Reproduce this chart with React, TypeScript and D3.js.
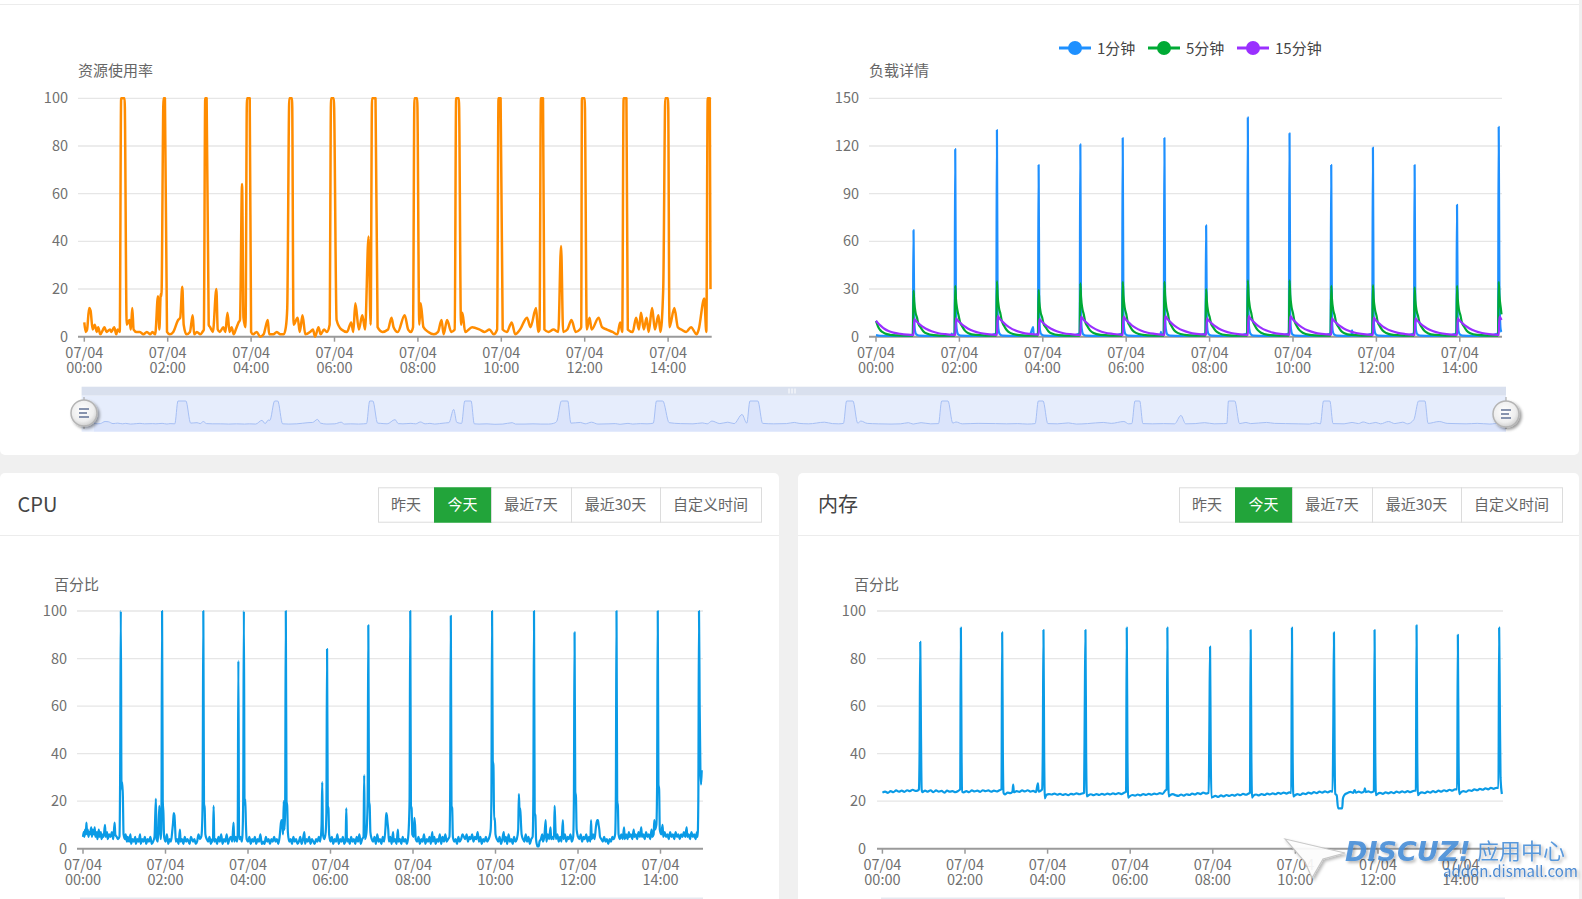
import React from "react";
import * as d3 from "d3";

type Pt = [number, number];

// ---------- labels / ticks ----------
const TICK_MINUTES = [0, 120, 240, 360, 480, 600, 720, 840];
const TICK_DATE = "07/04";
const TICK_CLOCK = ["00:00", "02:00", "04:00", "06:00", "08:00", "10:00", "12:00", "14:00"];
const USAGE_TICKS = [0, 20, 40, 60, 80, 100];
const LOAD_TICKS = [0, 30, 60, 90, 120, 150];
const PERCENT_TICKS = [0, 20, 40, 60, 80, 100];
const LOAD_NAMES = ["1分钟", "5分钟", "15分钟"];
const RANGE_BUTTONS = ["昨天", "今天", "最近7天", "最近30天", "自定义时间"];
const ACTIVE_BUTTON = "今天";

// ---------- data: [minute since 07/04 00:00, value] ----------
const resourceUsage: Pt[] = [
  [0,6],[2,2],[4,3],[7,12],[9,11],[12,3],[15,5],[18,2],[20,4],[23,1],[27,3],[29,4],[32,2],[37,3],[39,2],[43,4],[46,1],[48,3],[51,2],
  [53,100],[58,100],[61,5],[65,7],[67,3],[69,12],[71,3],[75,2],[80,2],[85,1],[90,2],[95,1],[98,2],[102,1],[106,17],[108,3],[110,18],[111,17],
  [114,100],[116,100],[119,2],[123,1],[128,2],[135,7],[138,8],[141,21],[143,5],[147,1],[152,2],[156,9],[158,1],[162,2],[167,1],[170,2],[172,3],
  [174,100],[176,100],[179,5],[181,4],[185,2],[190,20],[192,3],[195,2],[200,4],[203,2],[206,10],[209,2],[212,4],[215,1],[218,3],[222,6],[224,7],[227,64],[229,8],[232,4],
  [234,100],[238,100],[240,2],[243,1],[248,2],[253,0],[258,1],[264,7],[266,1],[272,1],[277,2],[282,1],[287,1],[290,4],[292,12],
  [295,100],[299,100],[301,5],[307,8],[310,2],[314,9],[318,1],[325,2],[329,3],[332,0],[337,4],[340,1],[345,3],[349,2],[353,5],
  [355,100],[359,100],[363,7],[370,3],[378,2],[384,6],[387,2],[390,14],[395,3],[400,9],[404,3],[409,42],[412,5],
  [414,100],[419,100],[422,4],[429,2],[437,3],[442,8],[445,4],[451,2],[461,9],[466,3],[470,2],[473,4],
  [475,100],[479,100],[482,5],[484,14],[488,4],[495,2],[503,1],[509,2],[514,7],[517,1],[522,7],[528,2],[533,3],
  [535,100],[539,100],[542,5],[544,10],[548,2],[558,4],[569,3],[576,2],[583,3],[589,1],[594,3],
  [596,100],[599,100],[602,3],[608,2],[615,6],[620,1],[627,3],[637,8],[642,4],[650,12],[653,2],[655,3],
  [657,100],[660,100],[662,3],[668,2],[675,3],[682,2],[686,38],[689,2],[695,3],[701,7],[707,2],[713,3],[715,4],
  [716,100],[720,100],[723,3],[727,8],[730,3],[740,8],[745,4],[752,3],[760,2],[767,1],[771,6],[774,2],
  [776,100],[780,100],[782,3],[789,2],[794,8],[798,3],[801,10],[805,3],[809,8],[812,2],[817,12],[821,3],[826,9],[829,2],[833,20],
  [836,100],[840,100],[842,4],[849,12],[854,4],[859,3],[866,2],[873,4],[881,1],[884,3],[892,16],[895,2],
  [897,100],[900,100],[901,20],
];

const load1m: Pt[] = [
  [0,1],[6,0.6],[20,0.5],[35,0.6],[50,0.5],[53,1.5],[54,67],[55,14],[56,4],[58,1.5],[62,0.7],[80,0.5],[100,0.6],[108,0.6],[109,2],[110,0.6],
  [113,2],[114,118],[115,16],[116,5],[118,1.6],[122,0.7],[140,0.5],[160,0.6],[173,2],[174,130],[175,17],[176,5],[178,1.7],[182,0.7],[200,0.5],
  [220,0.6],[225,5],[226,6],[227,0.8],[233,2],[234,108],[235,15],[236,4],[238,1.5],[242,0.7],[260,0.5],[280,0.6],[293,2],[294,121],[295,16],
  [296,5],[298,1.6],[302,0.7],[320,0.5],[340,0.6],[354,2],[355,125],[356,16],[357,5],[359,1.6],[363,0.7],[380,0.5],[400,0.6],[409,0.6],[410,3],
  [411,0.7],[414,2],[415,125],[416,16],[417,5],[419,1.6],[423,0.7],[440,0.5],[460,0.6],[474,2],[475,70],[476,12],[477,4],[479,1.4],[483,0.7],
  [500,0.5],[520,0.6],[534,2],[535,138],[536,17],[537,5],[539,1.7],[543,0.7],[560,0.5],[580,0.6],[594,2],[595,128],[596,16],[597,5],[599,1.6],
  [603,0.7],[620,0.5],[640,0.6],[654,2],[655,108],[656,15],[657,4],[659,1.5],[663,0.7],[680,0.5],[684,0.6],[685,4],[686,0.6],[700,0.6],[714,2],
  [715,119],[716,16],[717,5],[719,1.6],[723,0.7],[740,0.5],[760,0.6],[774,2],[775,108],[776,15],[777,4],[779,1.5],[783,0.7],[800,0.5],[820,0.6],
  [835,2],[836,83],[837,13],[838,4],[840,1.5],[844,0.7],[860,0.5],[880,0.6],[895,2],[896,132],[897,30],[898,10],[899,4],[900,3],
];

const load5m: Pt[] = [
  [0,10],[2,7.5],[4,5.5],[6,4.2],[9,3],[13,2],[20,1.2],[30,0.8],[45,0.6],[53,0.6],
  [54,29],[55,22],[57,15],[59,12],[61,8],[64,6],[68,3.5],[73,2],[83,1],[100,0.6],[113,0.6],
  [114,32],[115,24],[117,17],[119,13],[121,9],[124,6.5],[128,3.8],[133,2.2],[143,1.1],[160,0.7],[173,0.6],
  [174,35],[175,26],[177,18],[179,14.5],[181,10],[184,7],[188,4.2],[193,2.4],[203,1.2],[220,0.7],[233,0.6],
  [234,29.5],[235,22],[237,15],[239,12.2],[241,8.2],[244,6],[248,3.5],[253,2],[263,1],[280,0.6],[293,0.6],
  [294,33.5],[295,25],[297,17.5],[299,14],[301,9.4],[304,6.7],[308,4],[313,2.3],[323,1.1],[340,0.7],[354,0.6],
  [355,34.5],[356,26],[358,18],[360,14.4],[362,9.7],[365,6.9],[369,4.1],[374,2.4],[384,1.2],[400,0.7],[414,0.6],
  [415,34.5],[416,26],[418,18],[420,14.4],[422,9.7],[425,6.9],[429,4.1],[434,2.4],[444,1.2],[460,0.7],[474,0.6],
  [475,30],[476,22.5],[478,15.6],[480,12.5],[482,8.4],[485,6],[489,3.6],[494,2.1],[504,1],[520,0.6],[534,0.6],
  [535,35.5],[536,26.5],[538,18.5],[540,14.8],[542,10],[545,7.1],[549,4.3],[554,2.5],[564,1.2],[580,0.7],[594,0.6],
  [595,35.5],[596,26.5],[598,18.5],[600,14.8],[602,10],[605,7.1],[609,4.3],[614,2.5],[624,1.2],[640,0.7],[654,0.6],
  [655,32],[656,24],[658,16.6],[660,13.3],[662,9],[665,6.4],[669,3.8],[674,2.2],[684,1.1],[700,0.7],[714,0.6],
  [715,32.5],[716,24.4],[718,17],[720,13.5],[722,9.1],[725,6.5],[729,3.9],[734,2.3],[744,1.1],[760,0.7],[774,0.6],
  [775,31],[776,23],[778,16],[780,12.9],[782,8.7],[785,6.2],[789,3.7],[794,2.2],[804,1.1],[820,0.7],[835,0.6],
  [836,32],[837,24],[839,16.6],[841,13.3],[843,9],[846,6.4],[850,3.8],[855,2.2],[865,1.1],[880,0.7],[895,0.6],
  [896,34.5],[897,26],[899,18],[900,14],
];

const load15m: Pt[] = [
  [0,10],[3,8.5],[7,6.8],[12,5],[18,3.6],[25,2.6],[35,1.8],[45,1.3],[53,1.1],
  [54,1.2],[55,11.1],[58,9.7],[62,8.1],[67,6.3],[72,5],[80,3.4],[90,2.2],[100,1.6],[113,1.1],
  [114,1.3],[115,11.5],[118,10],[122,8.4],[127,6.6],[132,5.2],[140,3.6],[150,2.3],[160,1.6],[173,1.2],
  [174,1.3],[175,13],[178,11.3],[182,9.5],[187,7.4],[192,5.9],[200,4],[210,2.6],[220,1.8],[233,1.3],
  [234,1.4],[235,11.1],[238,9.7],[242,8.1],[247,6.3],[252,5],[260,3.4],[270,2.2],[280,1.6],[293,1.1],
  [294,1.3],[295,12.6],[298,11],[302,9.2],[307,7.2],[312,5.7],[320,3.9],[330,2.5],[340,1.8],[354,1.2],
  [355,1.3],[356,12.6],[359,11],[363,9.2],[368,7.2],[373,5.7],[381,3.9],[391,2.5],[401,1.8],[414,1.2],
  [415,1.3],[416,13],[419,11.3],[423,9.5],[428,7.4],[433,5.9],[441,4],[451,2.6],[461,1.8],[474,1.3],
  [475,1.4],[476,11.5],[479,10],[483,8.4],[488,6.6],[493,5.2],[501,3.6],[511,2.3],[521,1.6],[534,1.2],
  [535,1.3],[536,13],[539,11.3],[543,9.5],[548,7.4],[553,5.9],[561,4],[571,2.6],[581,1.8],[594,1.3],
  [595,1.4],[596,13],[599,11.3],[603,9.5],[608,7.4],[613,5.9],[621,4],[631,2.6],[641,1.8],[654,1.3],
  [655,1.4],[656,11.5],[659,10],[663,8.4],[668,6.6],[673,5.2],[681,3.6],[691,2.3],[701,1.6],[714,1.2],
  [715,1.3],[716,12],[719,10.4],[723,8.8],[728,6.8],[733,5.4],[741,3.7],[751,2.4],[761,1.7],[774,1.2],
  [775,1.3],[776,11.5],[779,10],[783,8.4],[788,6.6],[793,5.2],[801,3.6],[811,2.3],[821,1.6],[835,1.2],
  [836,1.3],[837,11.5],[840,10],[844,8.4],[849,6.6],[854,5.2],[862,3.6],[872,2.3],[882,1.6],[895,1.2],
  [896,1.3],[897,12.6],[900,10.5],
];

const cpuPercent: Pt[] = [
  [0,5],[1,7],[2,5],[3,8],[4,6],[5,11],[6,6],[7,8],[8,5],[9,7],[10,6],[12,9],[13,5],[14,8],[16,6],[17,9],[18,5],[20,7],[21,4],[23,8],[24,5],
  [26,7],[27,4],[29,6],[30,5],[32,10],[33,5],[35,7],[36,4],[38,6],[40,5],[42,7],[44,4],[46,11],[47,6],[49,5],[51,4],[53,5],[54,30],
  [55,100],[56,25],[57,28],[58,22],[59,6],[61,4],[62,6],[64,3],[65,5],[67,3],[69,6],[70,2],[72,4],[74,3],[76,5],[77,2],[79,4],[81,3],[83,6],
  [84,2],[86,4],[88,3],[90,5],[92,2],[94,4],[96,3],[98,5],[100,2],[102,3],[104,5],[106,21],[107,4],[109,3],[111,18],[112,10],[113,4],[114,8],
  [115,100],[116,20],[117,15],[118,5],[120,3],[122,6],[124,2],[126,4],[128,3],[130,8],[131,11],[132,15],[133,14],[134,9],[135,3],[137,4],
  [139,2],[141,8],[142,3],[144,4],[146,2],[148,5],[150,3],[152,4],[155,2],[157,5],[160,3],[162,4],[164,2],[166,3],[168,6],[170,4],[172,5],
  [173,8],[174,20],[175,100],[176,19],[177,17],[178,6],[180,4],[182,3],[184,5],[186,2],[188,4],[189,3],[190,18],[191,3],[193,4],[195,2],
  [197,5],[199,3],[201,6],[203,2],[205,4],[207,3],[209,6],[211,2],[213,4],[215,5],[217,3],[219,11],[220,3],[222,5],[224,3],[225,6],[226,79],
  [227,4],[229,5],[231,3],[232,6],[233,20],[234,100],[235,18],[236,21],[237,10],[238,4],[240,3],[242,5],[244,2],[246,4],[248,3],[250,5],
  [252,2],[254,4],[256,3],[258,6],[260,2],[262,3],[264,2],[266,5],[268,3],[270,4],[272,2],[274,4],[276,3],[278,5],[280,3],[282,4],[284,2],
  [286,5],[288,11],[289,12],[290,10],[291,6],[292,20],[293,8],[294,15],[295,100],[296,20],[297,18],[298,7],[300,3],[302,4],[304,2],[306,5],
  [308,3],[310,4],[312,2],[314,3],[316,5],[318,2],[320,4],[322,7],[323,2],[325,4],[327,3],[329,5],[331,2],[333,4],[335,3],[337,2],[339,4],
  [341,3],[343,5],[345,3],[347,10],[348,28],[349,6],[351,4],[353,7],[354,15],[355,84],[356,18],[357,17],[358,6],[360,3],[362,5],[364,2],
  [366,4],[368,3],[370,6],[372,2],[374,4],[376,3],[378,5],[380,2],[382,4],[383,17],[384,3],[386,4],[388,2],[390,5],[392,3],[394,4],[396,2],
  [398,5],[400,3],[402,6],[404,2],[406,4],[408,5],[409,31],[410,4],[412,6],[414,20],[415,94],[416,20],[417,18],[418,7],[420,4],[422,3],
  [424,5],[426,2],[428,6],[430,3],[432,4],[434,2],[436,5],[438,3],[440,9],[441,15],[442,14],[443,11],[444,8],[445,3],[447,5],[449,2],[451,7],
  [452,3],[454,4],[456,2],[458,8],[459,3],[461,4],[463,2],[465,5],[467,3],[469,4],[471,2],[473,5],[475,20],[476,100],[477,18],[478,17],
  [479,6],[481,5],[482,13],[483,10],[484,4],[486,3],[488,5],[490,2],[492,4],[494,3],[496,6],[498,2],[500,4],[502,3],[504,5],[506,2],[508,7],
  [509,3],[511,5],[513,2],[515,4],[517,3],[519,6],[521,2],[523,5],[525,3],[527,6],[529,3],[531,4],[533,5],[534,20],[535,98],[536,18],
  [537,17],[538,5],[540,3],[542,4],[544,2],[546,5],[548,3],[550,4],[552,6],[554,5],[556,4],[558,6],[560,3],[562,5],[564,4],[566,6],[568,3],
  [570,5],[572,4],[574,7],[576,3],[578,5],[580,2],[582,4],[584,3],[586,5],[588,3],[590,4],[592,6],[593,8],[594,20],[595,100],[596,37],
  [597,35],[598,12],[599,13],[600,6],[602,4],[604,3],[606,5],[608,2],[610,4],[612,7],[613,3],[615,5],[617,2],[619,6],[621,3],[623,4],
  [625,2],[627,5],[629,3],[631,4],[633,8],[634,23],[635,16],[636,17],[637,11],[638,6],[640,4],[642,3],[644,6],[646,3],[648,5],[650,2],
  [652,4],[654,5],[655,20],[656,100],[657,15],[658,14],[659,4],[660,2],[661,1],[663,1],[664,3],[666,4],[668,6],[669,3],[671,5],[673,12],
  [674,3],[676,6],[678,4],[680,9],[681,4],[683,5],[685,4],[686,18],[687,10],[688,4],[690,6],[692,3],[694,5],[696,3],[698,12],[699,4],
  [701,6],[703,3],[705,5],[707,4],[709,6],[711,3],[713,5],[714,20],[715,91],[716,24],[717,22],[718,8],[720,5],[722,4],[724,6],[726,3],
  [728,5],[730,4],[732,6],[734,3],[736,5],[738,3],[739,12],[740,4],[742,6],[744,4],[746,9],[747,11],[748,12],[749,12],[750,10],[751,8],
  [752,5],[754,4],[756,3],[758,5],[760,3],[762,4],[764,2],[766,4],[768,3],[770,5],[772,4],[774,6],[775,20],[776,100],[777,20],[778,18],
  [779,6],[781,4],[783,6],[785,4],[787,9],[788,4],[790,6],[792,4],[794,7],[795,5],[797,6],[799,4],[801,8],[802,5],[804,6],[806,4],[808,7],
  [810,5],[812,9],[813,5],[815,6],[817,4],[819,7],[821,5],[823,6],[825,4],[827,8],[828,5],[830,6],[831,12],[832,8],[834,10],[835,25],
  [836,100],[837,27],[838,25],[839,8],[841,6],[843,10],[844,5],[846,7],[848,5],[850,6],[852,4],[854,7],[856,5],[858,6],[860,4],[862,7],
  [864,5],[866,6],[868,4],[870,6],[872,5],[874,7],[876,5],[878,9],[879,5],[881,6],[883,4],[885,7],[887,5],[889,6],[891,4],[893,7],[894,5],
  [895,20],[896,100],[897,60],[898,34],[899,27],[900,33],
];

const memPercent: Pt[] = [
  [0,23.6],[4,24],[8,23.5],[12,24.2],[16,23.8],[20,24.5],[24,24],[28,24.4],[32,23.9],[36,24.6],[40,24.2],[44,24.8],[48,24.3],[52,24.6],
  [53,25],[54,40],[55,87],[56,50],[57,25],[58,23.8],[62,24.4],[66,24],[70,24.6],[74,23.8],[78,24.5],[82,24],[86,24.3],[90,23.6],[94,24.4],
  [98,24],[102,24.2],[106,23.8],[110,24.3],[113,25],[114,93],[115,40],[116,24],[118,23.7],[122,24.2],[126,23.8],[130,24.5],[134,24.1],
  [138,24.4],[142,23.9],[146,24.6],[150,24.2],[154,24.5],[158,24],[162,24.4],[166,24.1],[170,24.6],[173,25],[174,91],[175,40],[176,23.5],
  [178,22.8],[182,23.6],[186,23.4],[189,24],[190,27],[191,23.8],[195,24.2],[199,23.9],[203,24.5],[207,24.1],[211,24.6],[215,24],[219,24.3],
  [223,23.8],[226,27.5],[227,24],[230,24.4],[232,25],[233,40],[234,92],[235,40],[236,21.2],[238,22.6],[242,23],[246,22.8],[250,23.2],
  [254,22.7],[258,23.1],[262,22.6],[266,23],[270,22.5],[274,23.1],[278,22.8],[282,23.3],[286,22.9],[290,23.2],[293,23.5],[294,60],[295,92],
  [296,40],[297,22],[299,22.4],[303,22.9],[307,22.5],[311,23],[315,22.6],[319,23.1],[323,22.7],[327,23.2],[331,22.8],[335,23.3],[339,22.9],
  [343,23.4],[347,23],[351,23.5],[354,24],[355,93],[356,40],[357,21.5],[359,22],[363,22.6],[367,22.3],[371,22.8],[375,22.4],[379,23],
  [383,22.6],[387,23.1],[391,22.7],[395,23.2],[399,22.9],[403,23.4],[407,23.1],[411,24.5],[413,25],[414,93],[415,40],[416,22],[418,22.5],
  [422,23],[426,22.5],[430,22.2],[434,22.8],[438,22.3],[442,22.9],[446,22.6],[450,23.2],[454,22.8],[458,23.4],[462,23],[466,23.6],[470,23.2],
  [474,23.5],[475,50],[476,85],[477,40],[478,21.5],[480,21.8],[484,22.2],[488,21.8],[492,22.4],[496,22],[500,22.6],[504,22.2],[508,22.7],
  [512,22.3],[516,22.9],[520,22.5],[524,23.1],[528,22.7],[532,23.2],[534,23.5],[535,92],[536,40],[537,21.5],[539,22.3],[543,22.8],[547,22.4],
  [551,23],[555,22.6],[559,23.2],[563,22.8],[567,23.3],[571,22.9],[575,23.5],[579,23.1],[583,23.6],[587,23.2],[591,23.7],[594,23.5],[595,93],
  [596,40],[597,22],[599,22.4],[603,23],[607,22.6],[611,23.3],[615,23],[619,23.6],[623,23.2],[627,23.8],[631,23.4],[635,24],[639,23.6],
  [643,24.1],[647,23.7],[651,24.2],[654,24],[655,50],[656,91],[657,40],[658,23],[660,22.5],[662,17],[668,17],[669,21],[671,22.5],[674,23.2],
  [677,23.6],[680,23.9],[684,23.5],[686,24.7],[688,23.6],[692,24],[696,23.6],[700,24.2],[701,25.4],[702,23.8],[706,24.1],[710,23.7],[714,24.2],
  [715,92],[716,40],[717,22.5],[719,23],[723,23.5],[727,23.1],[731,23.7],[735,23.3],[739,23.8],[743,23.4],[747,24],[751,23.6],[755,24.1],
  [759,23.7],[763,24.2],[767,23.8],[771,24.3],[775,24.5],[776,94],[777,40],[778,22.5],[780,23.2],[784,23.7],[788,23.4],[792,24],[796,23.6],
  [800,24.2],[804,23.8],[808,24.4],[812,24],[816,24.6],[820,24.2],[824,24.8],[828,24.4],[832,25],[835,25],[836,90],[837,40],[838,23],
  [840,23.6],[844,24.2],[848,23.9],[852,24.6],[856,24.3],[860,25],[864,24.6],[868,25.2],[872,24.8],[876,25.4],[880,25],[884,25.6],[888,25.2],
  [892,25.6],[895,25.6],[896,93],[897,60],[898,30],[900,23],
];

// ---------- styling ----------
const FONT = "'Microsoft YaHei', 'Noto Sans CJK SC', 'Noto Sans', sans-serif";
const ORANGE = "#ff8c00";
const LOAD_COLORS = ["#1e90ff", "#00aa35", "#9a30ff"];
const MEM_CPU_BLUE = "#0a9be6";
const AXIS_GRAY = "#9a9a9a";
const LABEL_GRAY = "#707070";

type Layout = {
  gx0: number; gx1: number; px0: number; px1: number; y0: number; y1: number;
  labelRight: number; titleX: number; titleY: number;
};

const L_USAGE: Layout = { gx0: 78, gx1: 711.7, px0: 84.3, px1: 709.8, y0: 98.3, y1: 336.7, labelRight: 68, titleX: 78, titleY: 76 };
const L_LOAD: Layout = { gx0: 869, gx1: 1502, px0: 876, px1: 1501.5, y0: 98.3, y1: 336.7, labelRight: 859, titleX: 869, titleY: 76 };
const L_CPU: Layout = { gx0: 77, gx1: 703, px0: 83, px1: 701.75, y0: 611, y1: 848.7, labelRight: 67, titleX: 54, titleY: 589.5 };
const L_MEM: Layout = { gx0: 877, gx1: 1503, px0: 882.4, px1: 1501.9, y0: 611, y1: 848.7, labelRight: 866, titleX: 854, titleY: 589.5 };

function Panel({ L, yMax, yTicks, title, series }: {
  L: Layout; yMax: number; yTicks: number[]; title: string; series: { data: Pt[]; color: string; width: number }[];
}) {
  const x = d3.scaleLinear().domain([0, 900]).range([L.px0, L.px1]);
  const y = d3.scaleLinear().domain([0, yMax]).range([L.y1, L.y0]);
  const line = d3.line<Pt>().x((d) => x(d[0])).y((d) => y(d[1])).curve(d3.curveMonotoneX);
  return (
    <g fontFamily={FONT}>
      <text x={L.titleX} y={L.titleY} fontSize={15} fill="#666">{title}</text>
      {yTicks.map((t) => (
        <g key={t}>
          {t !== 0 && (
            <line x1={L.gx0} x2={L.gx1} y1={y(t)} y2={y(t)} stroke="#e6e6e6" strokeWidth={1.3} />
          )}
          <text x={L.labelRight} y={y(t)} dy="0.35em" textAnchor="end" fontSize={14.5} fill={LABEL_GRAY}>{t}</text>
        </g>
      ))}
      <line x1={L.gx0} x2={L.gx1} y1={L.y1} y2={L.y1} stroke={AXIS_GRAY} strokeWidth={2} />
      {TICK_MINUTES.map((m, i) => (
        <g key={m}>
          <line x1={x(m)} x2={x(m)} y1={L.y1} y2={L.y1 + 5} stroke={AXIS_GRAY} strokeWidth={1.5} />
          <text x={x(m)} y={L.y1 + 21} textAnchor="middle" fontSize={14.5} fill={LABEL_GRAY}>{TICK_DATE}</text>
          <text x={x(m)} y={L.y1 + 36} textAnchor="middle" fontSize={14.5} fill={LABEL_GRAY}>{TICK_CLOCK[i]}</text>
        </g>
      ))}
      {series.map((s, i) => (
        <path key={i} d={line(s.data) || ""} fill="none" stroke={s.color} strokeWidth={s.width} strokeLinejoin="round" />
      ))}
    </g>
  );
}

function ButtonBar({ x0 }: { x0: number }) {
  const widths = [56, 57, 80, 89, 101];
  let cx = x0;
  const y0 = 487.3, h = 34.4;
  return (
    <g fontFamily={FONT} fontSize={15}>
      {RANGE_BUTTONS.map((b, i) => {
        const bx = cx;
        cx += widths[i];
        const active = b === ACTIVE_BUTTON;
        return (
          <g key={b}>
            <rect x={bx + 0.5} y={y0 + 0.5} width={widths[i]} height={h} fill={active ? "#22a43a" : "#fff"} stroke={active ? "#22a43a" : "#dcdcdc"} strokeWidth={1} />
            <text x={bx + widths[i] / 2} y={y0 + h / 2 + 5.5} textAnchor="middle" fill={active ? "#fff" : "#666"}>{b}</text>
          </g>
        );
      })}
    </g>
  );
}

function Handle({ cx, cy }: { cx: number; cy: number }) {
  return (
    <g>
      <line x1={cx} x2={cx} y1={397} y2={429} stroke="#a0a0a0" strokeWidth={1} />
      <circle cx={cx} cy={cy} r={13} fill="url(#hg)" stroke="#b5b5b5" strokeWidth={1.5} filter="url(#hs)" />
      {[-4, 0, 4].map((d, i) => (
        <line key={i} x1={cx - 5} x2={cx + (i === 1 ? 3 : 5)} y1={cy + d} y2={cy + d} stroke="#8793ad" strokeWidth={2} />
      ))}
    </g>
  );
}

function DataZoom() {
  const dzX0 = 81.6, dzX1 = 1506, dzTop = 386.7, dzBand = 395.7, dzBottom = 431.7;
  const sx = d3.scaleLinear().domain([0, 900]).range([94, 1520]);
  const sy = d3.scaleLinear().domain([0, 100]).range([424.3, 401]);
  const line = d3.line<Pt>().x((d) => sx(d[0])).y((d) => sy(d[1])).curve(d3.curveMonotoneX);
  const area = d3.area<Pt>().x((d) => sx(d[0])).y0(dzBottom).y1((d) => sy(d[1])).curve(d3.curveMonotoneX);
  return (
    <g>
      <defs>
        <clipPath id="dzclip">
          <rect x={dzX0} y={dzBand} width={dzX1 - dzX0} height={dzBottom - dzBand} />
        </clipPath>
      </defs>
      <rect x={dzX0} y={dzTop} width={dzX1 - dzX0} height={dzBand - dzTop} fill="#d9e0ee" />
      <rect x={dzX0} y={dzBand} width={dzX1 - dzX0} height={dzBottom - dzBand} fill="#e6edfc" />
      <g clipPath="url(#dzclip)">
        <path d={area(resourceUsage) || ""} fill="#d3defa" opacity={0.6} />
        <path d={line(resourceUsage) || ""} fill="none" stroke="#a6bff4" strokeWidth={1} />
      </g>
      {[0, 3, 6].map((d) => (
        <line key={d} x1={789 + d} x2={789 + d} y1={388.5} y2={393.5} stroke="#ffffff" strokeWidth={1} />
      ))}
      <Handle cx={84} cy={413} />
      <Handle cx={1506} cy={414} />
    </g>
  );
}

function Legend() {
  const items = [
    { lx: 1059, tx: 1097 },
    { lx: 1148, tx: 1186 },
    { lx: 1237, tx: 1275 },
  ];
  return (
    <g fontFamily={FONT} fontSize={15}>
      {items.map((it, i) => (
        <g key={i}>
          <line x1={it.lx} x2={it.lx + 32} y1={48} y2={48} stroke={LOAD_COLORS[i]} strokeWidth={3} />
          <circle cx={it.lx + 16} cy={48} r={7} fill={LOAD_COLORS[i]} />
          <text x={it.tx} y={53.5} fill="#444">{LOAD_NAMES[i]}</text>
        </g>
      ))}
    </g>
  );
}

function Watermark() {
  return (
    <g filter="url(#wms)">
      <path d="M1285,839 L1345,853 L1323,859 L1312,878 L1305,862 Z" fill="#ffffff" stroke="#c4c4c4" strokeWidth={1.2} opacity={0.9} />
      <text x={1345} y={861} fontFamily="'DejaVu Sans', sans-serif" fontWeight="bold" fontStyle="italic" fontSize={27} fill="#4a8fd9" opacity={0.9}>DISCUZ!</text>
      <text x={1477} y={859} fontFamily={FONT} fontSize={22} fill="#4a8fd9" opacity={0.9}>应用中心</text>
      <text x={1443} y={877} fontFamily={FONT} fontSize={15} fill="#3a7fcf" opacity={0.9}>addon.dismall.com</text>
    </g>
  );
}

export default function App() {
  return (
    <div style={{ position: "absolute", left: 0, top: 0, width: 1582, height: 899, overflow: "hidden" }}>
      <svg width={1582} height={899} style={{ display: "block" }}>
        <defs>
          <radialGradient id="hg" cx="45%" cy="40%" r="60%">
            <stop offset="0%" stopColor="#ffffff" />
            <stop offset="70%" stopColor="#eeeeee" />
            <stop offset="100%" stopColor="#cfcfcf" />
          </radialGradient>
          <filter id="hs" x="-50%" y="-50%" width="200%" height="200%">
            <feDropShadow dx="2" dy="2" stdDeviation="1.6" floodColor="#000" floodOpacity="0.4" />
          </filter>
          <filter id="wms" x="-10%" y="-30%" width="120%" height="160%">
            <feDropShadow dx="2" dy="2" stdDeviation="1.5" floodColor="#000" floodOpacity="0.3" />
          </filter>
        </defs>
        <rect x={0} y={0} width={1582} height={899} fill="#f0f0f0" />
        {/* top card */}
        <rect x={0} y={-6} width={1579} height={461} rx={5} fill="#ffffff" />
        <line x1={0} x2={1579} y1={4.5} y2={4.5} stroke="#ececec" strokeWidth={1.2} />
        {/* bottom cards */}
        <rect x={0} y={473} width={779} height={440} rx={5} fill="#ffffff" />
        <rect x={798} y={473} width={781} height={440} rx={5} fill="#ffffff" />
        <line x1={0} x2={779} y1={535.5} y2={535.5} stroke="#ececec" strokeWidth={1.2} />
        <line x1={798} x2={1579} y1={535.5} y2={535.5} stroke="#ececec" strokeWidth={1.2} />
        <text x={17.6} y={511.5} fontFamily={FONT} fontSize={20} fill="#444">CPU</text>
        <text x={818} y={511.5} fontFamily={FONT} fontSize={20} fill="#444">内存</text>
        <ButtonBar x0={378} />
        <ButtonBar x0={1179} />

        <Legend />
        <Panel L={L_USAGE} yMax={100} yTicks={USAGE_TICKS} title="资源使用率" series={[{ data: resourceUsage, color: ORANGE, width: 2.5 }]} />
        <Panel
          L={L_LOAD}
          yMax={150}
          yTicks={LOAD_TICKS}
          title="负载详情"
          series={[
            { data: load1m, color: LOAD_COLORS[0], width: 2.2 },
            { data: load5m, color: LOAD_COLORS[1], width: 2.2 },
            { data: load15m, color: LOAD_COLORS[2], width: 2.2 },
          ]}
        />
        <DataZoom />
        <Panel L={L_CPU} yMax={100} yTicks={PERCENT_TICKS} title="百分比" series={[{ data: cpuPercent, color: MEM_CPU_BLUE, width: 2.2 }]} />
        <Panel L={L_MEM} yMax={100} yTicks={PERCENT_TICKS} title="百分比" series={[{ data: memPercent, color: MEM_CPU_BLUE, width: 2.2 }]} />
        <line x1={80} x2={703} y1={898.3} y2={898.3} stroke="#e6e9f0" strokeWidth={1.5} />
        <line x1={881} x2={1505} y1={898.3} y2={898.3} stroke="#e6e9f0" strokeWidth={1.5} />
        <Watermark />
      </svg>
    </div>
  );
}
